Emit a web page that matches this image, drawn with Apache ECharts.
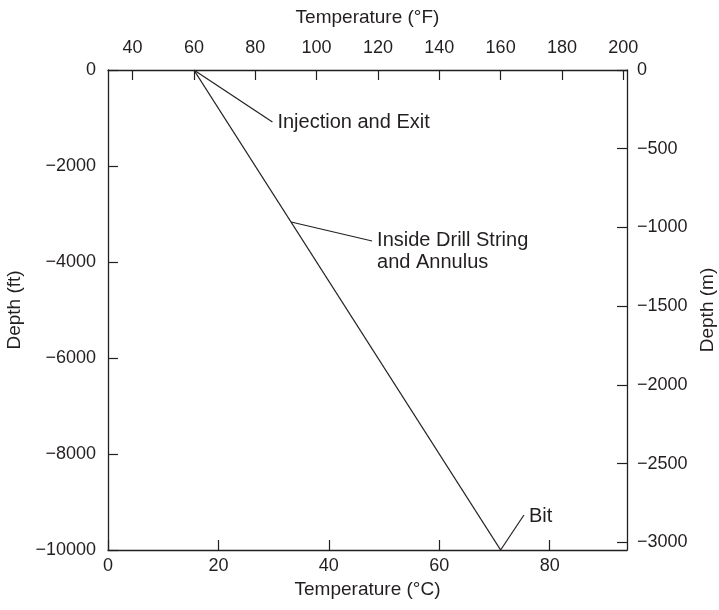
<!DOCTYPE html>
<html>
<head>
<meta charset="utf-8">
<script src="https://cdn.jsdelivr.net/npm/echarts@6/dist/echarts.min.js"></script>
<style>html,body{margin:0;padding:0;background:#fff}#c{width:719px;height:610px}</style>
</head>
<body>
<div id="c"></div>
<script>
// Temperature profile (°F on top axis, depth in ft on left axis)
const profileTempF = [60, 160];
const profileDepthFt = [0, -10000];

// Tick labels
const tempCTicks = [0, 20, 40, 60, 80];
const tempFTicks = [40, 60, 80, 100, 120, 140, 160, 180, 200];
const depthFtTicks = [0, -2000, -4000, -6000, -8000, -10000];
const depthMTicks = [0, -500, -1000, -1500, -2000, -2500, -3000];

// Annotations: leader line start (on profile) and end (label anchor), in °F / ft
const annotLabels = ['Injection and Exit', 'Inside Drill String\nand Annulus', 'Bit'];
const annotStartF = [60, 91.7, 160];
const annotStartFt = [0, -3167, -10000];
const annotEndF = [85.6, 118.1, 167.6];
const annotEndFt = [-1083, -3562, -9271];

const FONT = '"Liberation Sans", Arial, Helvetica, sans-serif';
const INK = '#231f20';
const FS_TICK = 18, FS_NAME = 19, FS_NOTE = 20;
const fmtMinus = v => String(v).replace('-', '\u2212');

const axisCommon = {
  axisLine: { show: true, onZero: false, lineStyle: { color: INK, width: 1.3 } },
  axisTick: { show: true, inside: true, length: 10, lineStyle: { color: INK, width: 1.2 } },
  axisLabel: { color: INK, fontSize: FS_TICK, fontFamily: FONT, formatter: fmtMinus },
  splitLine: { show: false },
  nameTextStyle: { color: INK, fontSize: FS_NAME, fontFamily: FONT },
  nameLocation: 'middle'
};

const series = [{
  type: 'line',
  xAxisIndex: 1, yAxisIndex: 0,
  data: profileTempF.map((t, i) => [t, profileDepthFt[i]]),
  symbol: 'none',
  lineStyle: { color: INK, width: 1.3 },
  silent: true, animation: false
}];

annotLabels.forEach((lab, i) => {
  const multi = lab.indexOf('\n') >= 0;
  series.push({
    type: 'line',
    xAxisIndex: 1, yAxisIndex: 0,
    data: [[annotStartF[i], annotStartFt[i]], [annotEndF[i], annotEndFt[i]]],
    symbol: 'none',
    lineStyle: { color: INK, width: 1.2 },
    endLabel: {
      show: true, formatter: lab, distance: 5,
      color: INK, fontSize: FS_NOTE, fontFamily: FONT, lineHeight: 22,
      align: 'left', verticalAlign: multi ? 'top' : 'middle',
      offset: multi ? [0, -11] : [0, 1]
    },
    silent: true, animation: false
  });
});

const option = {
  animation: false,
  backgroundColor: '#fff',
  grid: { left: 108, right: 92, top: 70, bottom: 60, containLabel: false, outerBoundsMode: 'none' },
  xAxis: [
    Object.assign({}, axisCommon, {
      type: 'value', position: 'bottom', min: 0, max: 94,
      name: 'Temperature (°C)', nameGap: 29,
      axisTick: Object.assign({}, axisCommon.axisTick, { customValues: tempCTicks }),
      axisLabel: Object.assign({}, axisCommon.axisLabel, { customValues: tempCTicks, margin: 7 })
    }),
    Object.assign({}, axisCommon, {
      type: 'value', position: 'top', min: 32, max: 201.2,
      name: 'Temperature (°F)', nameGap: 43,
      axisTick: Object.assign({}, axisCommon.axisTick, { customValues: tempFTicks }),
      axisLabel: Object.assign({}, axisCommon.axisLabel, { customValues: tempFTicks, margin: 13 })
    })
  ],
  yAxis: [
    Object.assign({}, axisCommon, {
      type: 'value', position: 'left', min: -10000, max: 0,
      name: 'Depth (ft)', nameGap: 79, nameRotate: 90,
      axisTick: Object.assign({}, axisCommon.axisTick, { customValues: depthFtTicks }),
      axisLabel: Object.assign({}, axisCommon.axisLabel, { customValues: depthFtTicks, margin: 12 })
    }),
    Object.assign({}, axisCommon, {
      type: 'value', position: 'right', min: -3048, max: 0,
      name: 'Depth (m)', nameGap: 71, nameRotate: 90,
      axisTick: Object.assign({}, axisCommon.axisTick, { customValues: depthMTicks }),
      axisLabel: Object.assign({}, axisCommon.axisLabel, { customValues: depthMTicks, margin: 10 })
    })
  ],
  series: series
};

const chart = echarts.init(document.getElementById('c'), null, { renderer: 'canvas' });
chart.setOption(option);
</script>
</body>
</html>
